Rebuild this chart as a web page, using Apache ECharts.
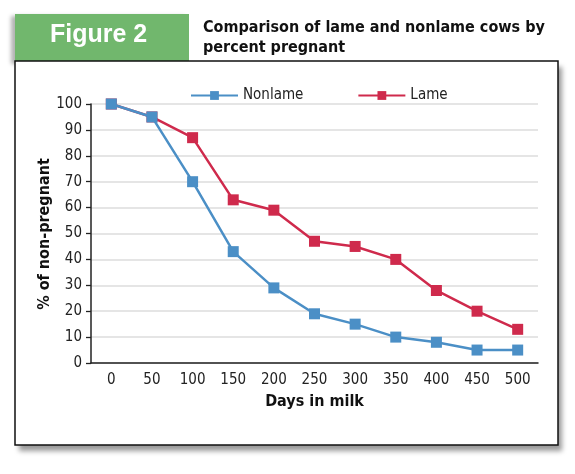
<!DOCTYPE html>
<html><head><meta charset="utf-8">
<script src="https://cdn.jsdelivr.net/npm/echarts@6/dist/echarts.min.js"></script>
<style>html,body{margin:0;padding:0;background:#fff}#c{width:575px;height:474px}</style>
</head><body><div id="c"></div>
<script>
var categories = ['0','50','100','150','200','250','300','350','400','450','500'];
var nonlame = [100, 95, 70, 43, 29, 19, 15, 10, 8, 5, 5];
var lame = [100, 95, 87, 63, 59, 47, 45, 40, 28, 20, 13];
var yTicks = {min: 0, max: 100, interval: 10};
var xTitle = 'Days in milk';
var yTitle = '% of non-pregnant';

var NARROW = "'Liberation Sans Narrow','DejaVu Sans Condensed',sans-serif";
var BLUE = '#4b8fc6', RED = '#cf2a4c';
var chart = echarts.init(document.getElementById('c'));
chart.setOption({
  animation: false,
  graphic: [
    {type:'rect', z:0, shape:{x:15,y:14,width:174,height:48},
     style:{fill:'#71b76d', shadowBlur:4, shadowOffsetX:-4, shadowOffsetY:2, shadowColor:'rgba(0,0,0,0.3)'}},
    {type:'text', z:1, left:50, top:23,
     style:{text:'Figure 2', fill:'#fff', font:"bold 25px 'Liberation Sans',Arial,Helvetica,sans-serif"}},
    {type:'text', z:1, left:203, top:18,
     style:{text:'Comparison of lame and nonlame cows by\npercent pregnant', fill:'#111', lineHeight:20,
            font:"bold 16px " + NARROW}},
    {type:'rect', z:0, shape:{x:15,y:61,width:543,height:384},
     style:{fill:'#fff', shadowBlur:5, shadowOffsetX:4, shadowOffsetY:6, shadowColor:'rgba(0,0,0,0.4)'}},
    {type:'rect', z:1, shape:{x:15,y:61,width:543,height:384},
     style:{fill:'none', stroke:'#111', lineWidth:1.5}},
    {type:'text', z:1, x:45, y:234, rotation: Math.PI/2,
     style:{text: yTitle, fill:'#111', font:"bold 16px " + NARROW, align:'center', verticalAlign:'middle'}}
  ],
  legend: {
    data: ['Nonlame','Lame'], left: 185, top: 83, itemWidth: 47, itemHeight: 11, itemGap: 54,
    textStyle: {fontFamily: NARROW, fontSize: 15, color: '#222'}
  },
  grid: {left: 91, top: 104, right: 37, bottom: 111},
  xAxis: {
    type: 'category', data: categories, boundaryGap: true,
    name: xTitle, nameLocation: 'middle', nameGap: 31,
    nameTextStyle: {fontFamily: NARROW, fontWeight: 'bold', fontSize: 16, color: '#111'},
    axisLine: {lineStyle: {color: '#222', width: 1.5}},
    axisTick: {inside: true, length: 6, lineStyle: {color: '#222', width: 1.3}, alignWithLabel: false},
    axisLabel: {fontFamily: NARROW, fontSize: 15, color: '#222', margin: 10},
    splitLine: {show: false}
  },
  yAxis: {
    type: 'value', min: yTicks.min, max: yTicks.max, interval: yTicks.interval,
    axisLine: {show: true, lineStyle: {color: '#222', width: 1.5}},
    axisTick: {show: true, length: 5, lineStyle: {color: '#222', width: 1.3}},
    axisLabel: {fontFamily: NARROW, fontSize: 15, color: '#222', margin: 9},
    splitLine: {lineStyle: {color: '#dcdcdc', width: 1.5}}
  },
  series: [
    {name: 'Lame', type: 'line', data: lame, symbol: 'rect', symbolSize: 11,
     itemStyle: {color: RED}, lineStyle: {color: RED, width: 2.5}, z: 2},
    {name: 'Nonlame', type: 'line', data: nonlame, symbol: 'rect', symbolSize: 11,
     itemStyle: {color: BLUE}, lineStyle: {color: BLUE, width: 2.5}, z: 3}
  ]
});
</script></body></html>
